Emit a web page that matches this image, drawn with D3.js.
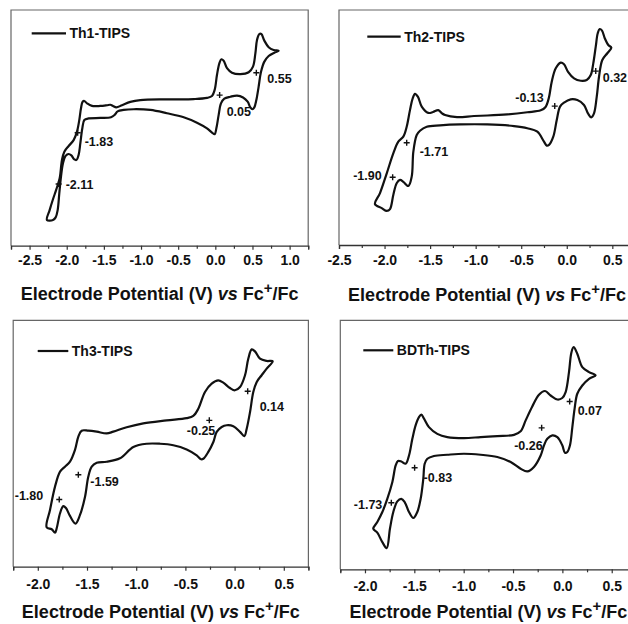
<!DOCTYPE html>
<html><head><meta charset="utf-8">
<script src="https://cdn.jsdelivr.net/npm/d3@7"></script>
<style>
html,body{margin:0;padding:0;background:#fff;}
svg{display:block;font-family:"Liberation Sans",Arial,Helvetica,sans-serif;}
</style></head><body>
<svg id="chart" width="628" height="624"></svg>
<script>
// ---------------- DATA ----------------
const seriesNames = ["Th1-TIPS", "Th2-TIPS", "Th3-TIPS", "BDTh-TIPS"];
const axisTitleParts = ["Electrode Potential (V) ", "vs", " Fc", "+", "/Fc"];

// x-axis ranges (V) and labelled ticks
const th1Domain = [-2.75, 1.25];
const th2Domain = [-2.5, 0.75];
const th3Domain = [-2.25, 0.75];
const bdthDomain = [-2.25, 0.75];
const th1Ticks = [-2.5, -2.0, -1.5, -1.0, -0.5, 0.0, 0.5, 1.0];
const th2Ticks = [-2.5, -2.0, -1.5, -1.0, -0.5, 0.0, 0.5];
const th3Ticks = [-2.0, -1.5, -1.0, -0.5, 0.0, 0.5];
const bdthTicks = [-2.0, -1.5, -1.0, -0.5, 0.0, 0.5];

// Th1-TIPS : potential (V) and relative current, closed CV loop
const th1Potential = [-2.266,-2.230,-2.185,-2.140,-2.095,-2.064,-2.032,-1.974,-1.907,-1.862,-1.831,-1.808,-1.786,-1.763,-1.727,-1.660,-1.548,-1.458,-1.413,-1.377,-1.333,-1.256,-1.144,-1.010,-0.651,-0.292,-0.112,-0.045,-0.009,0.022,0.054,0.081,0.112,0.157,0.224,0.337,0.449,0.507,0.539,0.561,0.592,0.619,0.660,0.718,0.785,0.853,
  0.794,0.718,0.660,0.615,0.583,0.552,0.525,0.498,0.471,0.435,0.373,0.292,0.202,0.121,0.076,0.045,0.014,-0.009,-0.045,-0.112,-0.247,-0.426,-0.651,-0.875,-1.099,-1.234,-1.315,-1.355,-1.404,-1.548,-1.705,-1.763,-1.790,-1.817,-1.840,-1.867,-1.898,-1.938,-1.974,-2.015,-2.051,-2.077,-2.100,-2.122,-2.149,-2.185,-2.266];
const th1Current = [10.9,15.1,19.7,23.9,28.6,36.4,39.9,42.3,44.8,48.4,53.3,58.3,61.1,61.4,60.4,59.3,59.3,59.6,59.8,59.3,58.7,59.6,61.0,61.8,62.1,62.2,62.7,63.5,66.1,72.4,77.4,79.1,78.5,75.3,73.4,72.8,73.6,76.0,81.6,87.3,89.8,89.8,87.0,84.2,83.0,82.7,
  81.9,80.5,78.1,73.8,67.5,61.8,58.7,57.9,58.7,61.1,62.9,63.7,63.2,62.4,60.4,55.5,49.8,47.3,48.0,49.8,52.2,54.5,56.2,57.6,57.9,57.6,57.0,55.5,54.5,54.2,54.0,53.3,49.8,43.4,38.5,36.4,36.6,38.3,38.9,38.1,34.9,29.3,22.2,15.1,12.0,10.9,10.9];
const th1HalfWaveV = [-1.853, -2.109, 0.058, 0.552];
const th1HalfWaveI = [47.9, 26.2, 63.9, 73.4];
const th1HalfWaveLabels = ["-1.83", "-2.11", "0.05", "0.55"];

// Th2-TIPS
const th2Potential = [-2.105,-2.050,-1.976,-1.904,-1.849,-1.794,-1.757,-1.721,-1.691,-1.666,-1.633,-1.592,-1.520,-1.468,-1.410,-1.369,-1.336,-1.205,-1.018,-0.872,-0.653,-0.433,-0.286,-0.235,-0.198,-0.165,-0.121,-0.066,-0.030,0.014,0.080,0.153,0.219,0.263,0.291,0.318,0.340,0.362,0.387,0.417,0.456,0.489,
  0.445,0.390,0.354,0.329,0.299,0.269,0.233,0.189,0.116,0.043,-0.030,-0.074,-0.110,-0.148,-0.195,-0.220,-0.250,-0.323,-0.433,-0.579,-0.872,-1.172,-1.391,-1.537,-1.611,-1.647,-1.684,-1.702,-1.739,-1.794,-1.830,-1.867,-1.904,-1.940,-1.976,-2.031,-2.105];
const th2Current = [17.4,22.1,30.5,39.0,44.0,46.1,50.3,57.4,62.4,64.3,63.0,58.9,56.2,56.6,57.4,56.0,55.3,54.4,54.9,55.1,55.6,56.5,57.3,58.6,62.4,69.5,75.2,77.6,76.9,73.7,70.9,69.9,70.2,72.3,77.3,84.4,90.1,91.9,91.2,88.0,85.1,84.0,
  81.6,78.7,71.6,63.1,56.0,54.3,56.0,59.6,61.7,62.0,60.6,58.9,53.2,46.1,42.6,42.3,44.0,48.2,49.7,50.6,51.3,51.3,50.9,50.3,48.6,46.8,39.7,29.1,25.1,26.9,27.7,26.3,21.3,15.3,14.5,15.7,17.4];
const th2HalfWaveV = [-1.757, -1.911, -0.132, 0.318];
const th2HalfWaveI = [43.5, 28.8, 59.1, 74.0];
const th2HalfWaveLabels = ["-1.71", "-1.90", "-0.13", "0.32"];

// Th3-TIPS
const th3Potential = [-1.910,-1.876,-1.825,-1.774,-1.724,-1.673,-1.622,-1.588,-1.554,-1.487,-1.401,-1.300,-1.233,-1.097,-0.928,-0.690,-0.487,-0.420,-0.369,-0.301,-0.233,-0.166,-0.115,-0.047,0.004,0.055,0.106,0.139,0.174,0.207,0.258,0.326,0.387,
  0.326,0.275,0.225,0.190,0.157,0.123,0.099,0.055,-0.013,-0.080,-0.131,-0.182,-0.216,-0.267,-0.318,-0.341,-0.385,-0.487,-0.623,-0.758,-0.893,-1.029,-1.165,-1.300,-1.401,-1.452,-1.487,-1.520,-1.571,-1.617,-1.673,-1.714,-1.741,-1.774,-1.808,-1.825,-1.859,-1.910];
const th3Current = [16.0,23.0,32.5,38.6,40.6,42.6,47.4,52.8,55.2,55.2,54.8,54.1,54.8,56.6,58.2,59.4,60.3,61.2,64.1,70.9,74.3,75.6,74.7,72.5,71.6,72.9,77.7,84.4,88.2,87.4,84.4,83.5,83.4,
  80.4,77.7,75.0,70.9,62.8,56.0,53.0,54.7,57.0,57.4,56.7,54.7,50.6,46.6,43.8,43.6,45.2,47.6,49.3,49.9,49.9,48.6,44.0,42.6,42.2,40.6,36.5,28.4,21.0,17.5,20.6,23.8,24.6,21.7,15.6,13.8,15.2,16.0];
const th3HalfWaveV = [-1.782, -1.588, -0.257, 0.133];
const th3HalfWaveI = [27.3, 37.3, 59.4, 71.2];
const th3HalfWaveLabels = ["-1.80", "-1.59", "-0.25", "0.14"];

// BDTh-TIPS
const bdthPotential = [-1.916,-1.875,-1.824,-1.774,-1.723,-1.689,-1.666,-1.632,-1.588,-1.554,-1.520,-1.487,-1.453,-1.429,-1.402,-1.352,-1.267,-1.166,-0.997,-0.828,-0.659,-0.490,-0.423,-0.372,-0.305,-0.237,-0.176,-0.119,-0.051,-0.001,0.033,0.067,0.091,0.114,0.151,0.202,0.270,0.337,
  0.270,0.202,0.151,0.124,0.101,0.077,0.050,0.026,-0.001,-0.051,-0.102,-0.153,-0.186,-0.220,-0.288,-0.355,-0.423,-0.524,-0.659,-0.828,-0.997,-1.166,-1.301,-1.368,-1.395,-1.409,-1.436,-1.470,-1.510,-1.554,-1.598,-1.632,-1.672,-1.713,-1.747,-1.780,-1.824,-1.875,-1.916];
const bdthCurrent = [16.3,19.0,23.0,28.3,35.0,41.7,43.5,43.3,42.4,45.7,52.4,57.8,61.1,62.1,60.5,57.1,54.4,53.1,52.7,53.1,53.5,54.0,55.4,59.8,65.4,70.1,71.6,69.8,68.2,68.8,71.2,79.2,87.0,89.2,86.6,81.2,79.2,77.9,
  76.5,73.8,70.5,64.5,57.1,49.8,47.1,46.8,49.8,53.1,53.8,52.4,49.8,45.7,41.1,39.3,40.4,43.1,45.1,46.0,46.4,46.0,45.5,44.4,42.4,36.4,28.3,23.0,20.6,23.0,27.0,28.3,27.3,23.0,16.3,8.5,10.9,14.7,16.3];
const bdthHalfWaveV = [-1.733, -1.497, -0.210, 0.074];
const bdthHalfWaveI = [26.7, 40.8, 56.8, 67.4];
const bdthHalfWaveLabels = ["-1.73", "-0.83", "-0.26", "0.07"];

const currentDomain = [0, 100]; // relative current units

// ---------------- LAYOUT ----------------
const layouts = [
  {box:{l:11, r:308.2, t:10, b:245.7}, leg:{x1:31.7, x2:66, y:33.3},
   off:[[7,9,"start"],[7,1,"start"],[7,16,"start"],[11,6,"start"]], tickY:9.6, titleY:300},
  {box:{l:339, r:635.1, t:10, b:245}, leg:{x1:367.3, x2:400.7, y:36.7},
   off:[[13,9,"start"],[-11,-2,"end"],[-11,-9,"end"],[7,6,"start"]], tickY:10, titleY:301},
  {box:{l:13.2, r:308.4, t:320.3, b:566.7}, leg:{x1:37.7, x2:68.3, y:351},
   off:[[-16,-4,"end"],[12,7,"start"],[6,10,"end"],[12,15,"start"]], tickY:12, titleY:618},
  {box:{l:340.3, r:636.4, t:320.3, b:569.3}, leg:{x1:363.3, x2:393.3, y:350.3},
   off:[[-9,2,"end"],[9,10,"start"],[1,18,"end"],[8,9,"start"]], tickY:12, titleY:618}
];

const panels = [
  {pot:th1Potential, cur:th1Current, hv:th1HalfWaveV, hi:th1HalfWaveI, hl:th1HalfWaveLabels, ticks:th1Ticks, domain:th1Domain},
  {pot:th2Potential, cur:th2Current, hv:th2HalfWaveV, hi:th2HalfWaveI, hl:th2HalfWaveLabels, ticks:th2Ticks, domain:th2Domain},
  {pot:th3Potential, cur:th3Current, hv:th3HalfWaveV, hi:th3HalfWaveI, hl:th3HalfWaveLabels, ticks:th3Ticks, domain:th3Domain},
  {pot:bdthPotential, cur:bdthCurrent, hv:bdthHalfWaveV, hi:bdthHalfWaveI, hl:bdthHalfWaveLabels, ticks:bdthTicks, domain:bdthDomain}
];

const svg = d3.select("#chart");
const ink = "#111";

panels.forEach((p, k) => {
  const L = layouts[k];
  const x = d3.scaleLinear().domain(p.domain).range([L.box.l, L.box.r]);
  const y = d3.scaleLinear().domain(currentDomain).range([L.box.b, L.box.t]);
  const g = svg.append("g");

  // frame (top, left, right)
  g.append("path")
    .attr("d", `M${L.box.l},${L.box.b}V${L.box.t}H${L.box.r}V${L.box.b}`)
    .attr("fill", "none").attr("stroke", "#666").attr("stroke-width", 1.2);

  // x axis: major + minor ticks
  const allTicks = d3.range(p.domain[0], p.domain[1] + 1e-9, 0.25).map(v => +v.toFixed(2));
  const isMajor = v => p.ticks.some(t => Math.abs(t - v) < 1e-6);
  const axis = d3.axisBottom(x).tickValues(allTicks).tickSizeOuter(0)
    .tickSize(4).tickFormat(v => isMajor(v) ? v.toFixed(1) : "");
  const ag = g.append("g").attr("transform", `translate(0,${L.box.b})`).call(axis);
  ag.select(".domain").attr("stroke", "#333").attr("stroke-width", 1.3);
  ag.selectAll(".tick line").attr("stroke", "#333").attr("stroke-width", 1.2)
    .attr("y2", v => isMajor(v) ? 4 : 3);
  ag.selectAll(".tick text").attr("y", L.tickY).attr("fill", ink)
    .attr("font-size", 14).attr("font-weight", "bold")
    .attr("font-family", '"Liberation Sans",Arial,sans-serif');

  // axis title
  const cx = (L.box.l + L.box.r) / 2;
  const t = g.append("text").attr("x", cx).attr("y", L.titleY).attr("text-anchor", "middle")
    .attr("font-size", 18).attr("font-weight", "bold").attr("fill", ink);
  t.append("tspan").text(axisTitleParts[0]);
  t.append("tspan").attr("font-style", "italic").text(axisTitleParts[1]);
  t.append("tspan").text(axisTitleParts[2]);
  t.append("tspan").attr("dy", -7).attr("font-size", 15).text(axisTitleParts[3]);
  t.append("tspan").attr("dy", 7).text(axisTitleParts[4]);

  // CV loop
  const pts = p.pot.map((v, i) => [v, p.cur[i]]).slice(0, -1);
  const line = d3.line().x(d => x(d[0])).y(d => y(d[1])).curve(d3.curveCatmullRomClosed.alpha(0.5));
  g.append("path").datum(pts).attr("d", line)
    .attr("fill", "none").attr("stroke", ink).attr("stroke-width", 2.2).attr("stroke-linejoin", "round");

  // legend
  g.append("line").attr("x1", L.leg.x1).attr("x2", L.leg.x2).attr("y1", L.leg.y).attr("y2", L.leg.y)
    .attr("stroke", ink).attr("stroke-width", 2.2);
  g.append("text").attr("x", L.leg.x2 + 3.5).attr("y", L.leg.y + 5)
    .attr("font-size", 14).attr("font-weight", "bold").attr("fill", ink).text(seriesNames[k]);

  // half-wave markers and labels
  p.hv.forEach((v, i) => {
    const px = x(v), py = y(p.hi[i]);
    g.append("path").attr("d", `M${px-3},${py}H${px+3}M${px},${py-3}V${py+3}`)
      .attr("stroke", ink).attr("stroke-width", 1.4);
    const o = L.off[i];
    g.append("text").attr("x", px + o[0]).attr("y", py + o[1] + 4.5)
      .attr("text-anchor", o[2]).attr("font-size", 12.5).attr("font-weight", "bold")
      .attr("fill", ink).text(p.hl[i]);
  });
});
</script>
</body></html>
